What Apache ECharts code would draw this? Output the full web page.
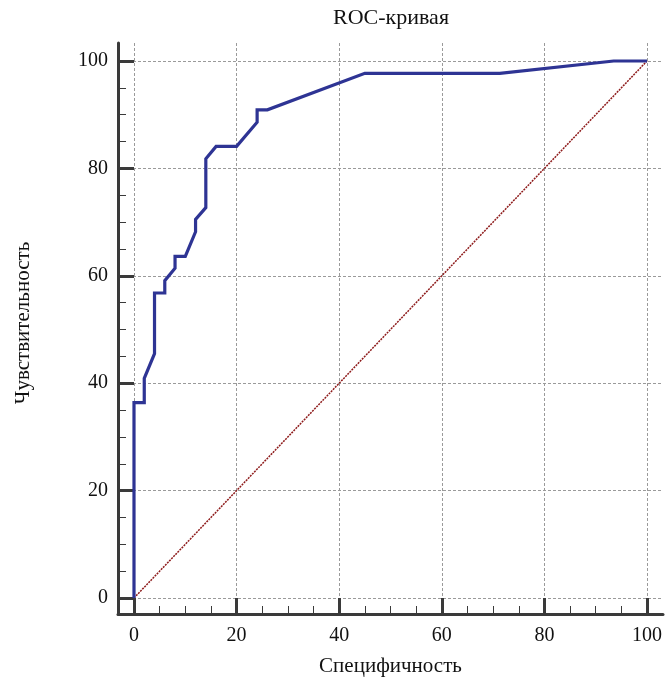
<!DOCTYPE html>
<html>
<head>
<meta charset="utf-8">
<script src="https://cdn.jsdelivr.net/npm/echarts@6/dist/echarts.min.js"></script>
<style>html,body{margin:0;padding:0;background:#fff}#c{width:665px;height:680px}</style>
</head>
<body>
<div id="c"></div>
<script>
// ROC curve points: specificity axis value (x, %) and sensitivity (y, %)
var rocX = [0, 0, 2, 2, 4, 4, 6, 6, 8, 8, 10, 12, 12, 14, 14, 16, 20, 24, 24, 26, 45, 71.3, 93.5, 100];
var rocY = [0, 36.4, 36.4, 40.9, 45.5, 56.8, 56.8, 59.1, 61.4, 63.6, 63.6, 68.2, 70.5, 72.7, 81.8, 84.1, 84.1, 88.6, 90.9, 90.9, 97.7, 97.7, 100, 100];
var diagX = [0, 100];
var diagY = [0, 100];
var majorTicks = [0, 20, 40, 60, 80, 100];
var minorTicks = [5, 10, 15, 25, 30, 35, 45, 50, 55, 65, 70, 75, 85, 90, 95];

var FONT = '"Liberation Serif", "DejaVu Serif", serif';
var AXIS_COLOR = '#3a3a3a';
var TEXT_COLOR = '#111';

function pairs(xs, ys) { return xs.map(function (x, i) { return [x, ys[i]]; }); }

// outer frame extends 16px (18px at top) beyond the 0..100 plot area
var X_PAD = 16 / 5.13, Y_PAD_B = 16 / 5.37, Y_PAD_T = 18 / 5.37;

function frameAxis(isX, extra) {
  var base = {
    type: 'value', gridIndex: 1,
    min: isX ? -X_PAD : -Y_PAD_B,
    max: isX ? 100 + X_PAD : 100 + Y_PAD_T,
    position: isX ? 'bottom' : 'left'
  };
  for (var k in extra) base[k] = extra[k];
  return base;
}

var chart = echarts.init(document.getElementById('c'), null, { renderer: 'canvas' });
chart.setOption({
  animation: false,
  backgroundColor: '#fff',
  title: {
    text: 'ROC-кривая',
    left: 391, top: 7, textAlign: 'center', padding: 0,
    textStyle: { fontFamily: FONT, fontSize: 22, fontWeight: 'normal', color: TEXT_COLOR }
  },
  grid: [
    { left: 134, top: 61, width: 513, height: 537, containLabel: false, outerBoundsMode: 'none' },
    { left: 118, top: 43, width: 545, height: 571, containLabel: false, outerBoundsMode: 'none' }
  ],
  xAxis: [
    { type: 'value', gridIndex: 0, min: 0, max: 100, show: false },
    frameAxis(true, {
      offset: 0,
      axisLine: { show: true, onZero: false, lineStyle: { color: AXIS_COLOR, width: 3 } },
      axisTick: { show: true, inside: true, length: 16, customValues: majorTicks, lineStyle: { color: AXIS_COLOR, width: 3 } },
      axisLabel: { show: true, customValues: majorTicks, margin: 12, fontFamily: FONT, fontSize: 20, color: TEXT_COLOR },
      splitLine: { show: true, lineStyle: { color: '#9a9a9a', width: 1, type: [3, 2] } },
      name: 'Специфичность', nameLocation: 'middle', nameGap: 42, nameMoveOverlap: false,
      nameTextStyle: { fontFamily: FONT, fontSize: 21, color: TEXT_COLOR }
    }),
    frameAxis(true, {
      offset: 0,
      axisLine: { show: false, onZero: false },
      axisTick: { show: true, inside: true, length: 8, customValues: minorTicks, lineStyle: { color: AXIS_COLOR, width: 1 } },
      axisLabel: { show: false, customValues: minorTicks },
      splitLine: { show: false }
    })
  ],
  yAxis: [
    { type: 'value', gridIndex: 0, min: 0, max: 100, show: false },
    frameAxis(false, {
      offset: 0,
      axisLine: { show: true, onZero: false, lineStyle: { color: AXIS_COLOR, width: 3 } },
      axisTick: { show: true, inside: true, length: 16, customValues: majorTicks, lineStyle: { color: AXIS_COLOR, width: 3 } },
      axisLabel: { show: true, customValues: majorTicks, margin: 10, fontFamily: FONT, fontSize: 20, color: TEXT_COLOR },
      splitLine: { show: true, lineStyle: { color: '#9a9a9a', width: 1, type: [3, 2] } },
      name: 'Чувствительность', nameLocation: 'middle', nameGap: 84, nameRotate: 90, nameMoveOverlap: false,
      nameTextStyle: { fontFamily: FONT, fontSize: 21, color: TEXT_COLOR, padding: [0, 0, 0, 11] }
    }),
    frameAxis(false, {
      offset: 0,
      axisLine: { show: false, onZero: false },
      axisTick: { show: true, inside: true, length: 8, customValues: minorTicks, lineStyle: { color: AXIS_COLOR, width: 1 } },
      axisLabel: { show: false, customValues: minorTicks },
      splitLine: { show: false }
    })
  ],
  series: [
    {
      type: 'line', xAxisIndex: 0, yAxisIndex: 0, data: pairs(diagX, diagY),
      showSymbol: false, symbol: 'none', clip: false, z: 3,
      lineStyle: { color: '#8e1b1b', width: 1.5, type: [2, 1] }
    },
    {
      type: 'line', xAxisIndex: 0, yAxisIndex: 0, data: pairs(rocX, rocY),
      showSymbol: false, symbol: 'none', clip: false, z: 4,
      lineStyle: { color: '#2e3494', width: 3.2, join: 'miter' }
    }
  ]
});
</script>
</body>
</html>
